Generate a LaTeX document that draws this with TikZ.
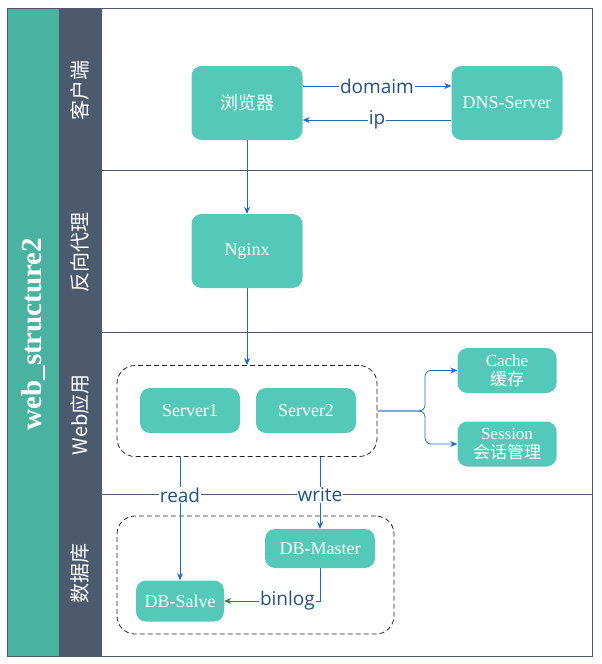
\documentclass[tikz,border=0pt]{standalone}
\usepackage{fontspec}
\usepackage{tikz}
\usetikzlibrary{arrows.meta}
\setmainfont{Liberation Serif}
\newfontfamily\cjk{Noto Sans CJK SC}
\newfontfamily\lblfont{Open Sans}
\definecolor{bandgreen}{HTML}{4AB2A0}
\definecolor{banddark}{HTML}{4D5A6E}
\definecolor{boxteal}{HTML}{54C9BA}
\definecolor{arrblue}{HTML}{1E6FBB}
\definecolor{lblblue}{HTML}{24527F}

\begin{document}
\begin{tikzpicture}[x=1pt,y=-1pt,
  box/.style={fill=boxteal,rounded corners=10pt,text=white,align=center,
    font=\fontsize{18}{19}\selectfont,inner sep=0pt},
  grp/.style={draw=black!85,dash pattern=on 5pt off 3pt,rounded corners=18pt,line width=0.8pt},
  arr/.style={draw=arrblue,line width=0.8pt,-{Stealth[length=7pt,width=6pt]}},
  lbl/.style={fill=white,inner sep=1pt,text=lblblue,font=\lblfont\fontsize{19}{20}\selectfont},
  lane/.style={text=white,rotate=90,font=\cjk\fontsize{20}{21}\selectfont}]
\useasboundingbox (0,0) rectangle (602,664);
% bands and lanes
\fill[bandgreen] (7,8) rectangle (59,656);
\fill[banddark] (59,8) rectangle (102,656);
\draw[banddark,line width=0.8pt] (7,8) rectangle (592,656);
\foreach \y in {170,332,494}
  \draw[banddark,line width=0.8pt] (102,\y) -- (592,\y);
\node[text=white,rotate=90,font=\bfseries\fontsize{29}{30}\selectfont] (Title) at (33,334) {web\_structure2};
\node[lane] (L0) at (80,90) {客户端};
\node[lane] (L1) at (80,252) {反向代理};
\node[lane] (L2) at (80,415) {Web应用};
\node[lane] (L3) at (80,573) {数据库};
% boxes
\node[box,minimum width=111pt,minimum height=74pt] (Browser) at (247,103) {\cjk 浏览器};
\node[box,minimum width=111pt,minimum height=74pt] (DNS) at (507,103) {DNS-Server};
\node[box,minimum width=111pt,minimum height=74pt] (Nginx) at (247,251) {Nginx};
\node[grp,minimum width=260pt,minimum height=91pt] (WebG) at (247,411) {};
\node[box,minimum width=100pt,minimum height=45pt] (S1) at (190,410.5) {Server1};
\node[box,minimum width=100pt,minimum height=45pt] (S2) at (306,410.5) {Server2};
\node[box,minimum width=99pt,minimum height=45pt,font=\fontsize{17}{19}\selectfont] (Cache) at (507,370.5) {Cache\\{\cjk 缓存}};
\node[box,minimum width=99pt,minimum height=45pt,font=\fontsize{17}{19}\selectfont] (Sess) at (507,444) {Session\\{\cjk 会话管理}};
\node[grp,minimum width=277pt,minimum height=118pt] (DBG) at (255.5,575) {};
\node[box,minimum width=110pt,minimum height=39pt] (Master) at (320,548.5) {DB-Master};
\node[box,minimum width=88pt,minimum height=41pt] (Slave) at (180,601) {DB-Salve};
\coordinate (Fork) at (425,411);
% connectors
\draw[arr] ([yshift=17pt]Browser.east) -- node[lbl]{domaim} ([yshift=17pt]DNS.west);
\draw[arr] ([yshift=-17pt]DNS.west) -- node[lbl]{ip} ([yshift=-17pt]Browser.east);
\draw[arr] (Browser) -- (Nginx);
\draw[arr] (Nginx) -- (WebG);
\draw[arr,rounded corners=6pt] (WebG.east) -- (Fork) |- (Cache.west);
\draw[arr,rounded corners=6pt] (WebG.east) -- (Fork) |- (Sess.west);
\draw[arr] (Slave.north |- WebG.south) -- node[lbl,pos=0.31]{read} (Slave.north);
\draw[arr] (Master.north |- WebG.south) -- node[lbl,pos=0.53]{write} (Master.north);
\draw[arr] (Master.south) |- node[lbl,pos=0.67]{binlog} (Slave.east);
\end{tikzpicture}
\end{document}
